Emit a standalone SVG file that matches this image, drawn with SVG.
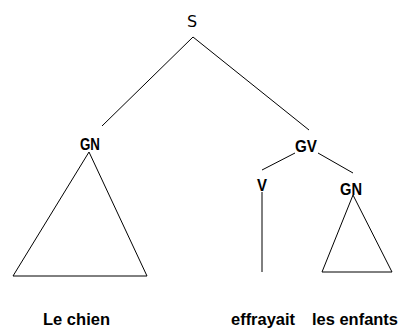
<svg xmlns="http://www.w3.org/2000/svg" width="402" height="330" viewBox="0 0 402 330">
<style>
.ln{stroke:#000;stroke-width:1;fill:none}
.lab{font-family:"Liberation Sans Narrow","Liberation Sans",Arial,sans-serif;font-weight:bold;font-size:17px;fill:#000;text-anchor:middle}
.s{font-family:"DejaVu Sans","Liberation Sans",sans-serif;font-size:16px;fill:#000;text-anchor:middle}
.w{font-family:"Liberation Sans Narrow","Liberation Sans",Arial,sans-serif;font-weight:bold;font-size:17px;fill:#000}
</style>
<rect width="402" height="330" fill="#fff"/>
<g id="connectors">
<line class="ln" x1="193" y1="37" x2="102" y2="126"/>
<line class="ln" x1="193" y1="37" x2="309" y2="130"/>
<line class="ln" x1="295" y1="153" x2="262" y2="170"/>
<line class="ln" x1="318" y1="153" x2="353" y2="173"/>
<line class="ln" x1="262" y1="192" x2="262" y2="272"/>
</g>
<g id="S"><text class="s" x="192" y="27">S</text></g>
<g id="GN1"><text class="lab" x="90" y="150" textLength="20" lengthAdjust="spacingAndGlyphs">GN</text>
<polygon class="ln" points="89,152 13,276 147,276"/></g>
<g id="GV"><text class="lab" x="306" y="152" textLength="22" lengthAdjust="spacingAndGlyphs">GV</text></g>
<g id="V"><text class="lab" x="262" y="191" textLength="10" lengthAdjust="spacingAndGlyphs">V</text></g>
<g id="GN2"><text class="lab" x="351" y="195" textLength="22" lengthAdjust="spacingAndGlyphs">GN</text>
<polygon class="ln" points="353,195 322,272 392,272"/></g>
<g id="words">
<text class="w" x="43" y="325" textLength="67" lengthAdjust="spacingAndGlyphs">Le chien</text>
<text class="w" x="231" y="325" textLength="64" lengthAdjust="spacingAndGlyphs">effrayait</text>
<text class="w" x="312" y="325" textLength="86" lengthAdjust="spacingAndGlyphs">les enfants</text>
</g>
</svg>
